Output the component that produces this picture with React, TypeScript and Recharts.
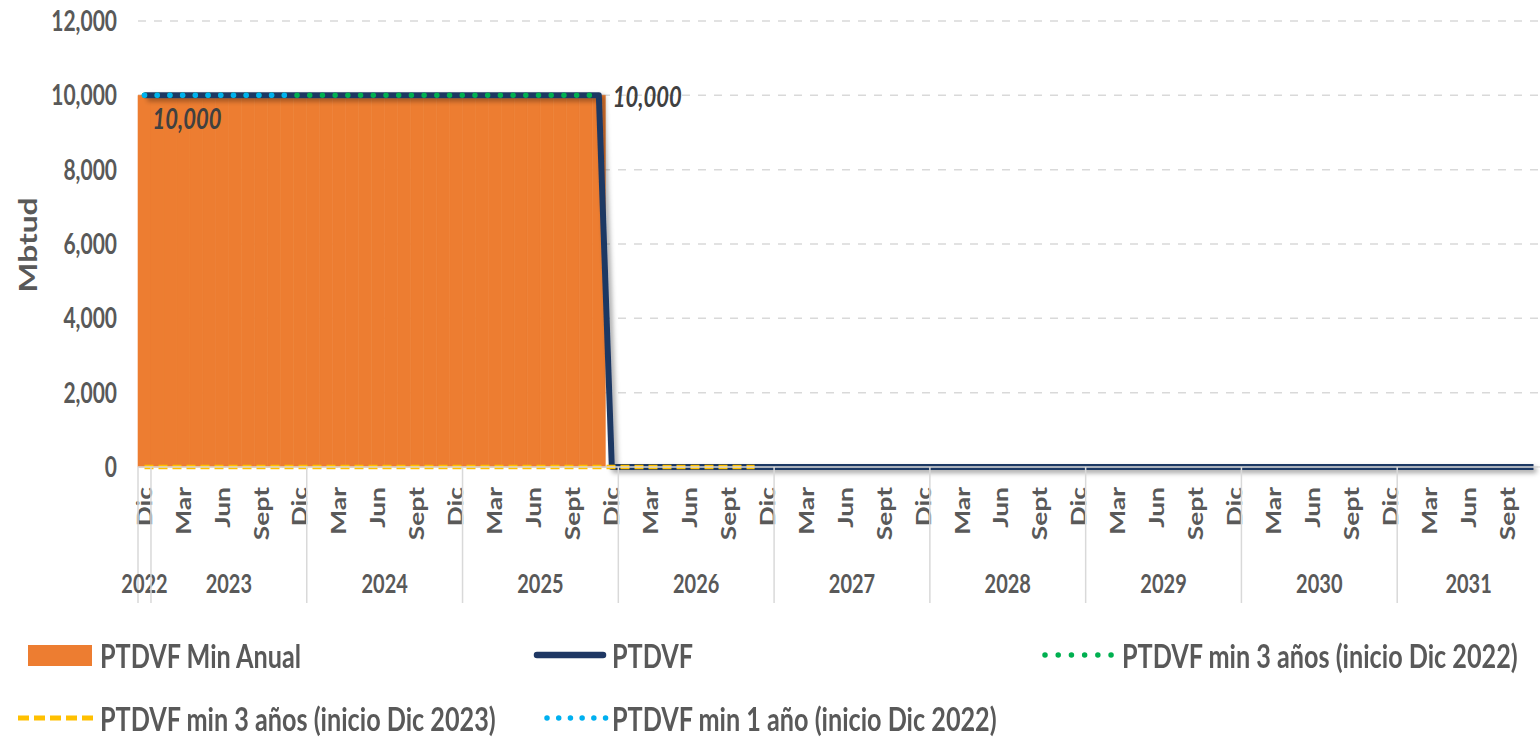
import React from 'react';
import { ComposedChart, Bar, Line, XAxis, YAxis, CartesianGrid, LabelList } from 'recharts';

// ---------- data ----------
const MONTH_NAMES = ['Ene', 'Feb', 'Mar', 'Abr', 'May', 'Jun', 'Jul', 'Ago', 'Sept', 'Oct', 'Nov', 'Dic'];
const SHOWN_MONTHS = ['Mar', 'Jun', 'Sept', 'Dic'];
const FIRST_MONTH = '2022-12';
const LAST_MONTH = '2031-11';
const Y_TICKS = [0, 2000, 4000, 6000, 8000, 10000, 12000];

// piecewise constant segments: [from, to, value]
const MIN_ANUAL: [string, string, number][] = [['2022-12', '2025-11', 10000]];
const PTDVF: [string, string, number][] = [
  ['2022-12', '2025-11', 10000],
  ['2025-12', '2031-11', 0],
];
const MIN3_DIC2022: [string, string, number][] = [['2022-12', '2025-11', 10000]];
const MIN3_DIC2023: [string, string, number][] = [['2022-12', '2026-11', 0]];
const MIN1_DIC2022: [string, string, number][] = [['2022-12', '2023-11', 10000]];
const LABEL_KEYS = ['2022-12', '2025-11'];

const SERIES_NAMES = {
  anual: 'PTDVF Min Anual',
  ptdvf: 'PTDVF',
  min3a: 'PTDVF min 3 años (inicio Dic 2022)',
  min3b: 'PTDVF min 3 años (inicio Dic 2023)',
  min1: 'PTDVF min 1 año (inicio Dic 2022)',
};

// ---------- build table ----------
function keyOf(y: number, m: number) {
  return `${y}-${String(m).padStart(2, '0')}`;
}
function lookup(segs: [string, string, number][], key: string) {
  for (const [a, b, v] of segs) if (key >= a && key <= b) return v;
  return null;
}
const rows: any[] = [];
{
  let [y, m] = FIRST_MONTH.split('-').map(Number);
  while (true) {
    const key = keyOf(y, m);
    rows.push({
      key,
      year: y,
      month: m,
      label: MONTH_NAMES[m - 1],
      anual: lookup(MIN_ANUAL, key),
      ptdvf: lookup(PTDVF, key),
      min3a: lookup(MIN3_DIC2022, key),
      min3b: lookup(MIN3_DIC2023, key),
      min1: lookup(MIN1_DIC2022, key),
    });
    if (key === LAST_MONTH) break;
    m += 1;
    if (m > 12) { m = 1; y += 1; }
  }
}

// ---------- layout ----------
const W = 1540;
const H = 739;
const PLOT_LEFT = 138;
const PLOT_TOP = 21;
const PLOT_BOTTOM = 467;
const XAXIS_H = 140;
const STEP = (W - PLOT_LEFT) / rows.length;
const FONT = 'Lato, "Open Sans", sans-serif';
const TXT = '#595959';
const SY = 1.32;

const MonthTick = (props: any) => {
  const { x, payload } = props;
  const i = payload.index;
  const row = rows[i];
  if (!row) return null;
  const els: any[] = [];
  if (SHOWN_MONTHS.includes(row.label)) {
    els.push(
      <text key="m" transform={`translate(${x},${PLOT_BOTTOM + 20}) scale(1,${SY}) rotate(-90)`}
        textAnchor="end" dy="0.36em" fontFamily={FONT} fontSize={20} fontWeight="bold" fill={TXT}>{row.label}</text>
    );
  }
  if (i === 0 || row.month === 1) {
    const left = x - STEP / 2;
    els.push(<line key="s" x1={left} x2={left} y1={PLOT_BOTTOM} y2={PLOT_BOTTOM + 136} stroke="#D9D9D9" strokeWidth={1.5} />);
    const n = rows.filter((r) => r.year === row.year).length;
    const cx = x + ((n - 1) / 2) * STEP;
    els.push(
      <text key="y" transform={`translate(${cx},${PLOT_BOTTOM + 116}) scale(1,${SY})`} textAnchor="middle"
        dy="0.36em" fontFamily={FONT} fontSize={20} fontWeight="bold" fill={TXT}>{row.year}</text>
    );
  }
  return <g>{els}</g>;
};

const YTick = (props: any) => {
  const { y, payload } = props;
  return (
    <text transform={`translate(117,${y}) scale(1,${SY})`} textAnchor="end" dy="0.36em"
      fontFamily={FONT} fontSize={21} fontWeight="bold" fill={TXT}>{Number(payload.value).toLocaleString('en-US')}</text>
  );
};

const renderLabel = (p: any) => {
  const { x, y, value, index } = p;
  const row = rows[index];
  if (!row || !LABEL_KEYS.includes(row.key)) return null;
  const first = row.key === LABEL_KEYS[0];
  const tx = first ? x + 8 : x + 14;
  const ty = first ? y + 23 : y + 1;
  return (
    <text transform={`translate(${tx},${ty}) scale(1,${SY})`} textAnchor="start" dy="0.36em"
      fontFamily={FONT} fontSize={22} fontStyle="italic" fontWeight="bold" fill="#404040">
      {Number(value).toLocaleString('en-US')}
    </text>
  );
};

const legendText = (left: number, cy: number, text: string) => (
  <div style={{
    position: 'absolute', left, top: cy - 12, height: 24, lineHeight: '24px', fontFamily: FONT,
    fontSize: 25.2, fontWeight: 'bold', color: TXT, whiteSpace: 'nowrap', transform: `scaleY(1.28)`,
    transformOrigin: 'left center',
  }}>{text}</div>
);

const Legend = () => (
  <>
    <div style={{ position: 'absolute', left: 28, top: 645, width: 64, height: 21, background: '#ED7D31' }} />
    {legendText(100, 655, SERIES_NAMES.anual)}
    <svg style={{ position: 'absolute', left: 530, top: 645 }} width={80} height={20}>
      <line x1={7} x2={73} y1={10} y2={10} stroke="#1F3864" strokeWidth={6.5} strokeLinecap="round" />
    </svg>
    {legendText(612, 655, SERIES_NAMES.ptdvf)}
    <svg style={{ position: 'absolute', left: 1038, top: 645 }} width={80} height={20}>
      <line x1={7} x2={74} y1={10} y2={10} stroke="#00B050" strokeWidth={5.5} strokeLinecap="round" strokeDasharray="0.01 13.2" />
    </svg>
    {legendText(1122, 655, SERIES_NAMES.min3a)}
    <svg style={{ position: 'absolute', left: 14, top: 708 }} width={86} height={20}>
      <line x1={4} x2={82} y1={10} y2={10} stroke="#FFC000" strokeWidth={5} strokeDasharray="11 5" />
    </svg>
    {legendText(100, 718, SERIES_NAMES.min3b)}
    <svg style={{ position: 'absolute', left: 540, top: 708 }} width={70} height={20}>
      <line x1={7} x2={66} y1={10} y2={10} stroke="#00B0F0" strokeWidth={5.5} strokeLinecap="round" strokeDasharray="0.01 11.7" />
    </svg>
    {legendText(612, 718, SERIES_NAMES.min1)}
  </>
);

export default function App() {
  return (
    <div style={{ position: 'absolute', left: 0, top: 0, width: W, height: H, overflow: 'hidden', background: '#fff' }}>
      <ComposedChart width={W} height={H} data={rows} barCategoryGap={0} barGap={0}
        margin={{ top: PLOT_TOP, right: 0, left: 0, bottom: H - PLOT_BOTTOM - XAXIS_H }}>
        <defs>
          <filter id="lineShadow" x="-5%" y="-10%" width="110%" height="130%">
            <feDropShadow dx="3" dy="3" stdDeviation="2.5" floodColor="#000" floodOpacity="0.35" />
          </filter>
        </defs>
        <CartesianGrid vertical={false} stroke="#D9D9D9" strokeDasharray="8 8" strokeWidth={1.5} />
        <XAxis dataKey="key" interval={0} height={XAXIS_H} tickLine={false}
          axisLine={{ stroke: '#D9D9D9', strokeWidth: 1.5 }} tick={<MonthTick />} />
        <YAxis width={PLOT_LEFT} domain={[0, 12000]} ticks={Y_TICKS} axisLine={false} tickLine={false}
          tick={<YTick />} />
        <text transform={`translate(28,245) scale(1,${SY}) rotate(-90)`} textAnchor="middle" dy="0.36em"
          fontFamily={FONT} fontSize={24} fontWeight="bold" fill={TXT}>Mbtud</text>
        <Bar dataKey="anual" name={SERIES_NAMES.anual} fill="#ED7D31" stroke="#ED7D31" strokeWidth={0.6}
          isAnimationActive={false} />
        <Line dataKey="ptdvf" name={SERIES_NAMES.ptdvf} type="linear" stroke="#1F3864" strokeWidth={6}
          strokeLinejoin="round" dot={false} activeDot={false} filter="url(#lineShadow)" isAnimationActive={false}>
          <LabelList dataKey="ptdvf" content={renderLabel} />
        </Line>
        <Line dataKey="min3b" name={SERIES_NAMES.min3b} type="linear" stroke="#FFC000" strokeWidth={4.5}
          strokeDasharray="9 5" dot={false} activeDot={false} isAnimationActive={false} />
        <Line dataKey="min3a" name={SERIES_NAMES.min3a} type="linear" stroke="#00B050" strokeWidth={5.5}
          strokeLinecap="round" strokeDasharray="0.01 12.7" dot={false} activeDot={false} isAnimationActive={false} />
        <Line dataKey="min1" name={SERIES_NAMES.min1} type="linear" stroke="#00B0F0" strokeWidth={5.5}
          strokeLinecap="round" strokeDasharray="0.01 12.7" dot={false} activeDot={false} isAnimationActive={false} />
      </ComposedChart>
      <Legend />
    </div>
  );
}
